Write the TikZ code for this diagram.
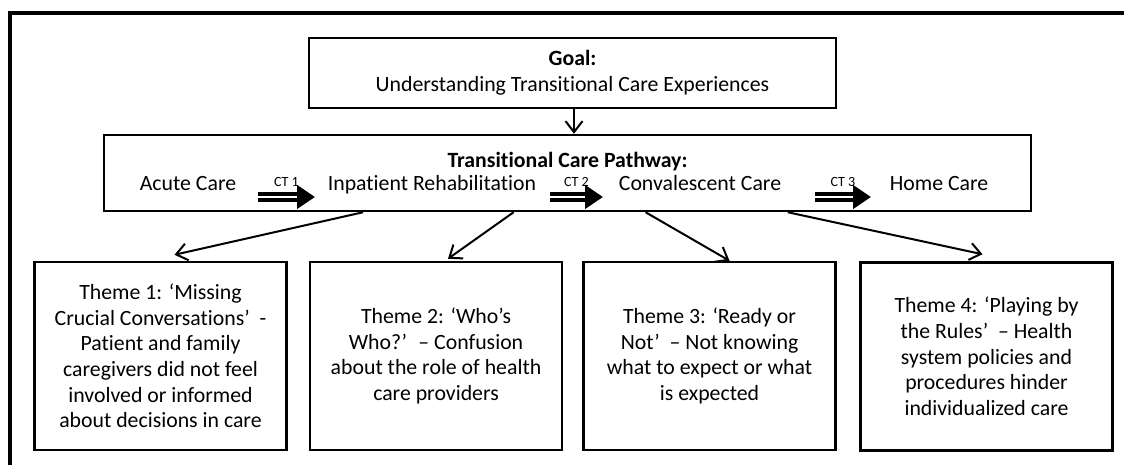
\documentclass[tikz,border=0pt]{standalone}
\usepackage{fontspec}
\setmainfont{Carlito}[Ligatures={TeX,NoCommon}]
\usetikzlibrary{arrows.meta,calc}

\begin{document}
\begin{tikzpicture}[x=0.02cm,y=-0.02cm,
    txt/.style={inner sep=0pt,align=center,font=\fontsize{12.4}{14.6}\selectfont},
    box/.style={txt,draw,line width=0.05cm},
    theme/.style={box,minimum width=5.04cm,minimum height=3.76cm},
    care/.style={txt,anchor=base},
    ct/.style={double=white,double distance=0.03cm,line width=0.09cm,-{Triangle[length=0.36cm,width=0.46cm]}},
    ctlab/.style={inner sep=0pt,font=\fontsize{8}{9}\selectfont},
    link/.style={line width=0.04cm,-{Straight Barb[length=0.22cm,width=0.34cm]}}]
  \clip (0,0) rectangle (1124,465);
  \draw[line width=0.07cm] (10,520) |- (1180,13);
  \node[box,minimum width=10.54cm,minimum height=1.4cm] (goal) at (572.5,73)
    {\textbf{Goal:}\\Understanding Transitional Care Experiences};
  \node[box,minimum width=18.54cm,minimum height=1.52cm] (pw) at (567.5,173) {};
  \node[care,font=\fontsize{12.4}{14.4}\selectfont\bfseries] (title) at (567.5,168) {Transitional Care Pathway:};
  \node[care] (acute) at (188,191) {Acute Care};
  \node[care] (inpat) at (432,191) {Inpatient Rehabilitation};
  \node[care] (conv) at (700,191) {Convalescent Care};
  \node[care] (home) at (939,191) {Home Care};
  \foreach \n/\a/\b in {1/258/315, 2/550/603, 3/815/871} {
    \coordinate (ct\n s) at (\a,197);
    \coordinate (ct\n e) at (\b,197);
    \draw[ct] (ct\n s) -- node[ctlab,above=0.16cm] (ct\n lab) {CT \n} (ct\n e);
  }
  \draw[link] (goal.south -| 574,0) -- (pw.north -| 574,0);
  \node[theme] (th1) at (160.5,356)
    {Theme 1: ‘Missing\\Crucial Conversations’ \ -\\Patient and family\\caregivers did not feel\\involved or informed\\about decisions in care};
  \node[theme] (th2) at (436,356)
    {Theme 2: ‘Who’s\\Who?’ \ – Confusion\\about the role of health\\care providers};
  \node[theme] (th3) at (709.5,356)
    {Theme 3: ‘Ready or\\Not’ \ – Not knowing\\what to expect or what\\is expected};
  \node[theme] (th4) at (986.5,356.5)
    {Theme 4: ‘Playing by\\the Rules’ \ – Health\\system policies and\\procedures hinder\\individualized care};
  \foreach \f/\t/\dx/\dy in {0.280/th1/14/-6, 0.442/th2/12/-2, 0.584/th3/20/0, 0.737/th4/-4/-7}
    \draw[link] ($(pw.south west)!\f!(pw.south east)$) -- ($(\t.north)+(\dx,\dy)$);
\end{tikzpicture}
\end{document}
